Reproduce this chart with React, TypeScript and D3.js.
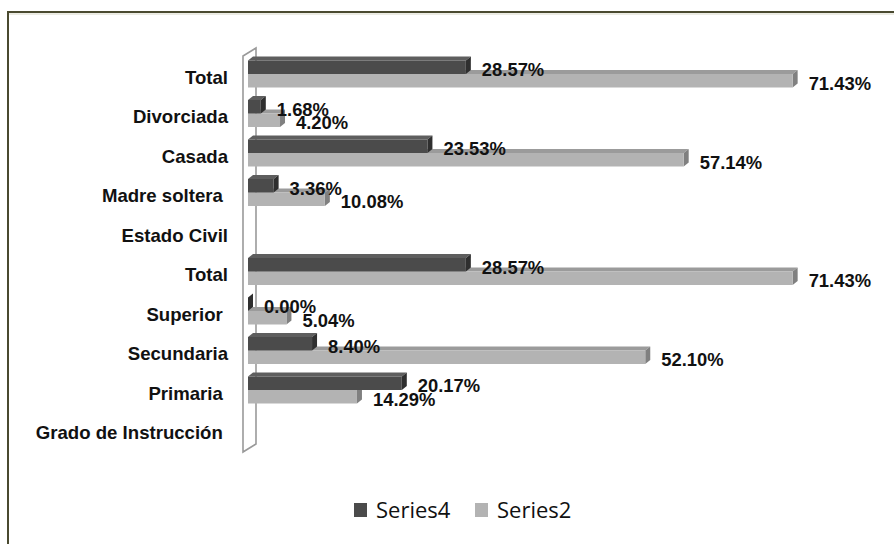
import React from "react";
import * as d3 from "d3";

// Categories listed top to bottom
const categories = [
  "Total",
  "Divorciada",
  "Casada",
  "Madre soltera ",
  "Estado Civil",
  "Total",
  "Superior ",
  "Secundaria",
  "Primaria ",
  "Grado de Instrucción ",
];

const series4: (number | null)[] = [28.57, 1.68, 23.53, 3.36, null, 28.57, 0.0, 8.4, 20.17, null];
const series2: (number | null)[] = [71.43, 4.2, 57.14, 10.08, null, 71.43, 5.04, 52.1, 14.29, null];

const seriesNames = ["Series4", "Series2"];

const W = 894;
const H = 544;

const palette = {
  dark: { front: "#4b4b4b", top: "#5e5e5e", side: "#2f2f2f" },
  light: { front: "#b3b3b3", top: "#9b9b9b", side: "#808080" },
};

const DX = 5; // bar depth, horizontal
const DY = -4; // bar depth, vertical
const BAR_H = 13.5;

function Bar3D({ x0, x1, y, h, c }: { x0: number; x1: number; y: number; h: number; c: { front: string; top: string; side: string } }) {
  const top = `M${x0},${y} L${x0 + DX},${y + DY} L${x1 + DX},${y + DY} L${x1},${y} Z`;
  const side = `M${x1},${y} L${x1 + DX},${y + DY} L${x1 + DX},${y + h + DY} L${x1},${y + h} Z`;
  return (
    <g>
      <path d={top} fill={c.top} />
      <path d={side} fill={c.side} />
      <rect x={x0} y={y} width={Math.max(0, x1 - x0)} height={h} fill={c.front} />
    </g>
  );
}

export default function App() {
  const x = d3.scaleLinear().domain([0, 80]).range([248, 858]);
  const y = d3.scaleBand<number>().domain(d3.range(categories.length)).range([54.25, 449.25]);
  const yc = (i: number) => (y(i) as number) + y.bandwidth() / 2;

  const labelFont = "'Liberation Sans', Arial, sans-serif";

  // Back wall of the 3D plot area
  const wx0 = 243;
  const wx1 = 256;
  const wallTop = 56;
  const wallBottom = 452;
  const wall = `M${wx0},${wallTop} L${wx1},${wallTop - 8} L${wx1},${wallBottom - 8} L${wx0},${wallBottom} Z`;

  const legendColors = [palette.dark.front, palette.light.front];

  return (
    <svg
      width={W}
      height={H}
      style={{ position: "absolute", left: 0, top: 0, display: "block", background: "#fff" }}
    >
      {/* outer frame */}
      <rect x={8} y={12} width={W} height={H} fill="#fff" stroke="#4a4a30" strokeWidth={2} />
      <line x1={9} y1={14} x2={W} y2={14} stroke="#d8d8c8" strokeWidth={1} />

      <path d={wall} fill="#fff" stroke="#9a9a9a" strokeWidth={1.6} />

      {/* category labels */}
      {categories.map((c, i) => (
        <text
          key={"c" + i}
          x={228}
          y={yc(i) + 9.5}
          textAnchor="end"
          fontFamily={labelFont}
          fontWeight="bold"
          fontSize={18.6}
          fill="#111"
          style={{ whiteSpace: "pre" }}
        >
          {c}
        </text>
      ))}

      {/* bars: lower (Series2) first, then upper (Series4) */}
      {categories.map((_, i) => {
        const c = yc(i);
        const v2 = series2[i];
        const v4 = series4[i];
        return (
          <g key={"b" + i}>
            {v2 != null && <Bar3D x0={x(0)} x1={x(v2)} y={c} h={BAR_H} c={palette.light} />}
            {v4 != null && <Bar3D x0={x(0)} x1={x(v4)} y={c - BAR_H} h={BAR_H} c={palette.dark} />}
          </g>
        );
      })}

      {/* value labels */}
      {categories.map((_, i) => {
        const c = yc(i);
        const v2 = series2[i];
        const v4 = series4[i];
        return (
          <g key={"l" + i} fontFamily={labelFont} fontWeight="bold" fontSize={18.4} fill="#111">
            {v4 != null && (
              <text x={x(v4) + 16} y={c - BAR_H / 2 + 9}>
                {v4.toFixed(2) + "%"}
              </text>
            )}
            {v2 != null && (
              <text x={x(v2) + 16} y={c + BAR_H / 2 + 9}>
                {v2.toFixed(2) + "%"}
              </text>
            )}
          </g>
        );
      })}

      {/* legend */}
      {seriesNames.map((s, k) => {
        const lx = 354 + k * 121;
        return (
          <g key={s}>
            <rect x={lx} y={503} width={13} height={14} fill={legendColors[k]} />
            <text x={lx + 22} y={518} fontFamily="'Open Sans', sans-serif" fontSize={22} fill="#111">
              {s}
            </text>
          </g>
        );
      })}
    </svg>
  );
}
